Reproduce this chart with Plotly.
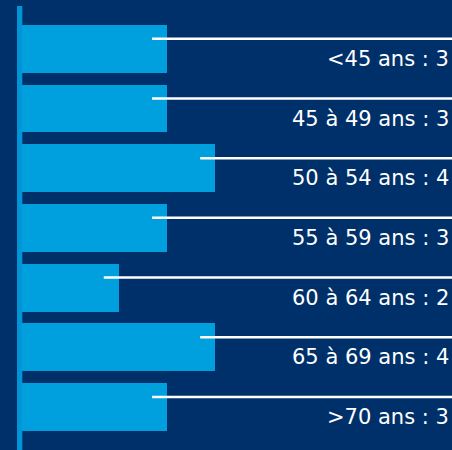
import plotly.graph_objects as go

categories = ["<45 ans", "45 à 49 ans", "50 à 54 ans", "55 à 59 ans", "60 à 64 ans", "65 à 69 ans", ">70 ans"]
values = [3, 3, 4, 3, 2, 4, 3]

BG = "#003069"
BAR = "#00A0DF"
XMAX = 8.915
positions = list(range(len(categories)))

fig = go.Figure()
fig.add_trace(go.Bar(
    x=values, y=positions, orientation="h",
    marker=dict(color=BAR, line=dict(width=0)),
    width=0.8, hoverinfo="skip", showlegend=False,
))

# white leader lines from near bar end to right edge
for p, v in zip(positions, values):
    fig.add_trace(go.Scatter(
        x=[v - 0.31, XMAX], y=[p - 0.17, p - 0.17], mode="lines",
        line=dict(color="white", width=2.5), hoverinfo="skip", showlegend=False,
    ))
    fig.add_annotation(
        x=XMAX, y=p + 0.17, xref="x", yref="y",
        text=f"{categories[p]} : {v}", showarrow=False,
        xanchor="right", yanchor="middle", xshift=-1,
        font=dict(family="DejaVu Sans", size=21, color="white"),
    )

# vertical axis bar
fig.add_shape(type="rect", xref="x", yref="paper",
              x0=-0.11, x1=0, y0=0, y1=1 - 6 / 450,
              fillcolor="#0096D6", line=dict(width=0), layer="below")

fig.update_layout(
    width=452, height=450,
    margin=dict(l=0, r=0, t=0, b=0),
    paper_bgcolor=BG, plot_bgcolor=BG,
    xaxis=dict(range=[-0.463, XMAX], visible=False, fixedrange=True),
    yaxis=dict(range=[6.72, -0.82], visible=False, fixedrange=True),
    bargap=0,
)
fig.write_html("out.html", config={"displayModeBar": False})

with open("out.html", encoding="utf-8") as f:
    html = f.read()
html = html.replace("<body>", '<body style="margin:0;padding:0;overflow:hidden">', 1)
with open("out.html", "w", encoding="utf-8") as f:
    f.write(html)
